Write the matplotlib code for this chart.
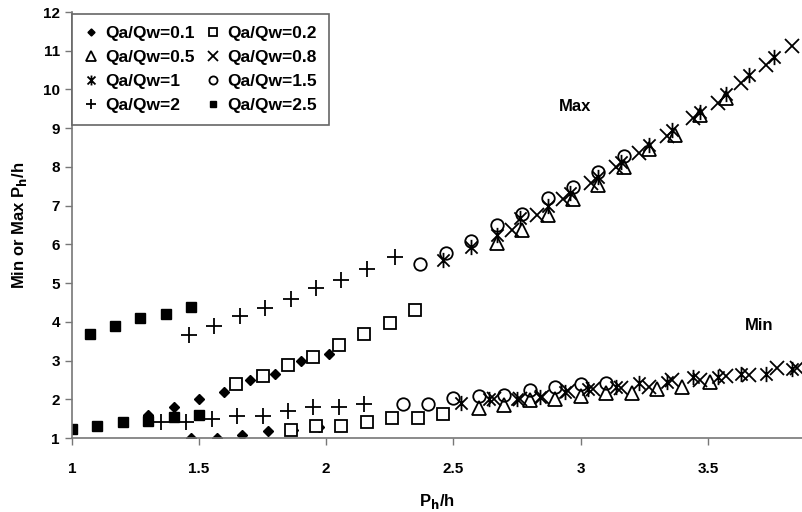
import numpy as np
import matplotlib
matplotlib.use("Agg")
import matplotlib.pyplot as plt
from matplotlib.path import Path

plt.rcParams['font.family'] = ['Liberation Sans', 'DejaVu Sans']
plt.rcParams['font.weight'] = 'bold'

# Qa/Qw = 0.1 (filled diamonds)
x_01 = [1.30, 1.40, 1.50, 1.60, 1.70, 1.80, 1.90, 2.01,
        1.47, 1.57, 1.67, 1.77, 1.87, 1.97]
y_01 = [1.59, 1.81, 2.00, 2.20, 2.50, 2.65, 3.00, 3.16,
        0.99, 0.99, 1.08, 1.19, 1.21, 1.29]

# Qa/Qw = 0.2 (open squares)
x_02 = [1.645, 1.75, 1.85, 1.95, 2.05, 2.15, 2.25, 2.35,
        1.86, 1.96, 2.06, 2.16, 2.26, 2.36, 2.46]
y_02 = [2.40, 2.60, 2.89, 3.10, 3.40, 3.69, 3.98, 4.31,
        1.21, 1.31, 1.31, 1.42, 1.51, 1.51, 1.61]

# Qa/Qw = 0.5 (open triangles)
x_05 = [2.67, 2.77, 2.87, 2.97, 3.07, 3.17, 3.27, 3.37, 3.47, 3.57,
        2.60, 2.70, 2.80, 2.90, 3.00, 3.10, 3.20, 3.30, 3.40, 3.51]
y_05 = [6.03, 6.37, 6.76, 7.17, 7.54, 8.01, 8.46, 8.83, 9.35, 9.78,
        1.77, 1.85, 1.98, 2.00, 2.09, 2.17, 2.17, 2.26, 2.31, 2.45]

# Qa/Qw = 0.8 (crosses)
x_08 = [2.73, 2.83, 2.93, 3.04, 3.14, 3.23, 3.34, 3.44, 3.54, 3.63, 3.73, 3.83,
        2.66, 2.76, 2.85, 2.95, 3.05, 3.16, 3.27, 3.36, 3.47, 3.57, 3.66, 3.77, 3.85]
y_08 = [6.37, 6.77, 7.17, 7.58, 8.01, 8.36, 8.79, 9.26, 9.66, 10.17, 10.64, 11.13,
        2.01, 2.01, 2.07, 2.22, 2.26, 2.30, 2.31, 2.50, 2.50, 2.60, 2.63, 2.80, 2.80]

# Qa/Qw = 1 (asterisks)
x_1 = [2.46, 2.57, 2.67, 2.76, 2.87, 2.96, 3.07, 3.16, 3.27, 3.36, 3.47, 3.57, 3.66, 3.76,
       2.53, 2.64, 2.75, 2.84, 2.94, 3.03, 3.14, 3.23, 3.34, 3.44, 3.54, 3.63, 3.73, 3.83]
y_1 = [5.60, 5.94, 6.25, 6.68, 6.98, 7.32, 7.75, 8.14, 8.57, 8.96, 9.43, 9.88, 10.38, 10.85,
       1.90, 2.00, 2.01, 2.07, 2.20, 2.26, 2.31, 2.41, 2.45, 2.57, 2.58, 2.65, 2.65, 2.78]

# Qa/Qw = 1.5 (open circles)
x_15 = [2.37, 2.47, 2.57, 2.67, 2.77, 2.87, 2.97, 3.07, 3.17,
        2.30, 2.40, 2.50, 2.60, 2.70, 2.80, 2.90, 3.00, 3.10]
y_15 = [5.49, 5.79, 6.10, 6.50, 6.79, 7.21, 7.49, 7.88, 8.29,
        1.88, 1.88, 2.03, 2.09, 2.11, 2.24, 2.31, 2.40, 2.41]

# Qa/Qw = 2 (plus)
x_2 = [1.46, 1.56, 1.66, 1.76, 1.86, 1.96, 2.06, 2.16, 2.27,
       1.35, 1.45, 1.55, 1.65, 1.75, 1.85, 1.95, 2.05, 2.15]
y_2 = [3.66, 3.88, 4.16, 4.37, 4.58, 4.87, 5.08, 5.37, 5.68,
       1.41, 1.41, 1.48, 1.58, 1.58, 1.70, 1.81, 1.81, 1.87]

# Qa/Qw = 2.5 (filled squares)
x_25 = [1.07, 1.17, 1.27, 1.37, 1.47,
        1.00, 1.10, 1.20, 1.30, 1.40, 1.50]
y_25 = [3.69, 3.89, 4.10, 4.20, 4.39,
        1.22, 1.32, 1.42, 1.43, 1.53, 1.60]

# asterisk marker: vertical bar + X
ast = Path([(0, -1), (0, 1), (-0.8, -0.8), (0.8, 0.8), (-0.8, 0.8), (0.8, -0.8)],
           [Path.MOVETO, Path.LINETO, Path.MOVETO, Path.LINETO, Path.MOVETO, Path.LINETO])

fig = plt.figure(figsize=(8.02, 5.12), dpi=100)
ax = fig.add_axes([0.0895, 0.1445, 0.9105, 0.832])

h01, = ax.plot(x_01, y_01, 'D', ms=5.5, color='black', ls='none', label='Qa/Qw=0.1')
h02, = ax.plot(x_02, y_02, 's', ms=8.5, mfc='white', mec='black', mew=1.3, ls='none', label='Qa/Qw=0.2')
h05, = ax.plot(x_05, y_05, '^', ms=10, mfc='none', mec='black', mew=1.3, ls='none', label='Qa/Qw=0.5')
h08, = ax.plot(x_08, y_08, 'x', ms=10, color='black', mew=1.3, ls='none', label='Qa/Qw=0.8')
h1, = ax.plot(x_1, y_1, marker=ast, ms=11, color='black', mew=1.3, ls='none', label='Qa/Qw=1')
h15, = ax.plot(x_15, y_15, 'o', ms=9, mfc='none', mec='black', mew=1.3, ls='none', label='Qa/Qw=1.5')
h2, = ax.plot(x_2, y_2, '+', ms=11, color='black', mew=1.3, ls='none', label='Qa/Qw=2')
h25, = ax.plot(x_25, y_25, 's', ms=6.5, color='black', ls='none', label='Qa/Qw=2.5')

ax.set_xlim(1, 3.87)
ax.set_ylim(1, 12)
ax.set_xticks([1, 1.5, 2, 2.5, 3, 3.5])
ax.set_xticklabels(['1', '1.5', '2', '2.5', '3', '3.5'])
ax.set_yticks(range(1, 13))

for s in ['top', 'right']:
    ax.spines[s].set_visible(False)
for s in ['left', 'bottom']:
    ax.spines[s].set_color('#777777')
    ax.spines[s].set_linewidth(1.2)
ax.tick_params(axis='both', colors='#777777', labelcolor='black', labelsize=11, length=5, width=1)
ax.tick_params(axis='x', pad=12)

ax.set_xlabel('P$_\\mathbf{h}$/h', fontsize=12, fontweight='bold', labelpad=12)
ax.set_ylabel('Min or Max P$_\\mathbf{h}$/h', fontsize=12, fontweight='bold', labelpad=10)

ax.text(2.98, 9.55, 'Max', fontsize=12, fontweight='bold', ha='center', va='center')
ax.text(3.70, 3.90, 'Min', fontsize=12, fontweight='bold', ha='center', va='center')

leg = ax.legend([h01, h05, h1, h2, h02, h08, h15, h25],
                ['Qa/Qw=0.1', 'Qa/Qw=0.5', 'Qa/Qw=1', 'Qa/Qw=2',
                 'Qa/Qw=0.2', 'Qa/Qw=0.8', 'Qa/Qw=1.5', 'Qa/Qw=2.5'],
                ncol=2, loc='upper left', bbox_to_anchor=(0, 0.995), borderaxespad=0,
                fancybox=False, edgecolor='#666666', fontsize=12.5, markerscale=0.65,
                handlelength=0.8, handletextpad=0.4, columnspacing=0.7,
                labelspacing=0.5, borderpad=0.7, framealpha=1)
leg.get_frame().set_linewidth(1.2)

fig.savefig('out.png', dpi=100)
